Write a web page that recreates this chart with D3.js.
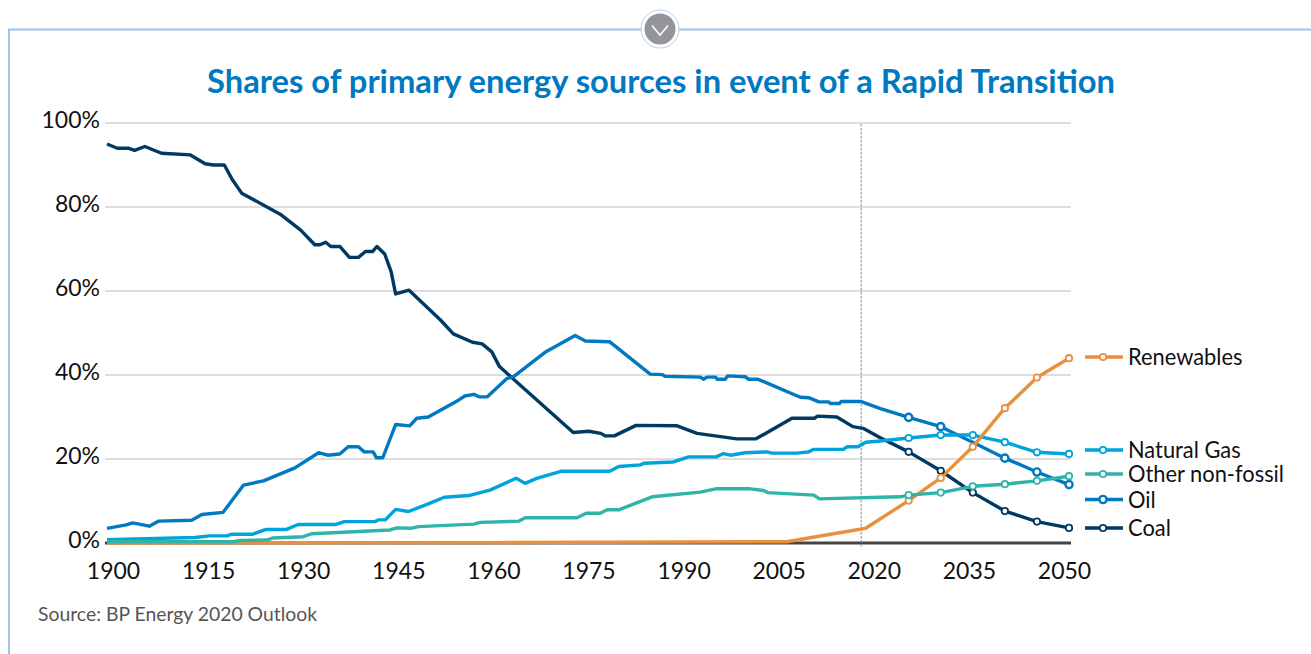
<!DOCTYPE html>
<html>
<head>
<meta charset="utf-8">
<script src="https://d3js.org/d3.v7.min.js"></script>
<style>
  html, body { margin: 0; padding: 0; background: #fff; overflow: hidden; }
  svg { display: block; font-family: Lato, "Open Sans", sans-serif; }
  .tick text { fill: #111; font-size: 23px; }
  .legend-label { fill: #111; font-size: 23px; }
</style>
</head>
<body>
<div id="viz"></div>
<script>
// values, [year list] + [share in %]
const coalYears = [1900,1901.6,1903.3,1904.3,1905.9,1908.5,1913,1915.3,1916.6,1918.3,1919.5,1921,1927,1930.2,1932.4,1933.2,1934.1,1934.9,1936.3,1937.8,1939.2,1940.3,1941.4,1942.1,1943.3,1944.3,1945,1947.1,1952,1954,1957,1958.5,1960,1961.2,1972.7,1975.1,1977,1977.7,1979.1,1982.5,1988.9,1992,1998.2,2001.2,2006.8,2010.3,2010.8,2013.8,2016.3,2017.9,2020.5,2025,2030,2035,2040,2045,2050];
const coalValues = [95,94,94,93.5,94.4,92.8,92.4,90.3,90,90,86.6,83.3,78.3,74.5,71,71,71.6,70.6,70.6,68,68,69.4,69.4,70.6,68.8,64.6,59.3,60.2,53.1,49.8,47.8,47.4,45.5,42,26.3,26.6,26.1,25.5,25.5,28,27.9,26.1,24.8,24.8,29.7,29.7,30.2,30,27.7,27.3,25.1,21.7,17.2,12,7.6,5.1,3.6];

const oilYears = [1900,1903,1904,1906.6,1908,1913.2,1914.8,1918.1,1921.3,1924.4,1929.3,1933,1934.4,1936.3,1937.6,1939.2,1940.1,1941.5,1942,1943,1945,1947.2,1948.3,1950.1,1954.8,1955.8,1957.2,1958,1959.3,1962.4,1963.4,1968.3,1973,1974.6,1978.4,1984.7,1986.6,1987,1992.5,1993,1993.6,1994.9,1995.1,1996.4,1996.8,1999.5,2000,2001.5,2008.1,2009.4,2011,2012.5,2012.8,2014.2,2014.5,2017.5,2020.6,2025,2030,2035,2040,2045,2050];
const oilValues = [3.5,4.3,4.8,4,5.2,5.4,6.8,7.3,13.8,14.8,17.9,21.5,20.9,21.2,22.9,22.9,21.7,21.7,20.3,20.3,28.2,27.9,29.7,30,34,35,35.4,34.8,34.8,39.2,39.6,45.4,49.4,48.1,47.9,40.2,40.1,39.7,39.5,39,39.5,39.5,39,39,39.8,39.6,39,39,34.7,34.6,33.6,33.6,33.2,33.2,33.7,33.7,32,29.9,27.7,24,20.2,16.9,13.9];

const gasYears = [1900,1913.7,1916,1918.7,1919.5,1922.7,1924.7,1927.9,1929.8,1935.6,1937,1941.8,1942.3,1943.4,1945,1947,1950.1,1952.6,1956.4,1959.7,1963.8,1965.2,1967,1970.9,1978.4,1979.8,1983.2,1983.7,1988.3,1990.7,1995,1996.1,1997.2,1999.5,2002.9,2003.7,2007.6,2009.4,2010.2,2014.8,2015.4,2017.1,2018.3,2020.6,2025,2030,2033,2035,2040,2045,2050];
const gasValues = [0.8,1.3,1.7,1.7,2.1,2.1,3.2,3.2,4.4,4.4,5.1,5.1,5.5,5.5,8,7.5,9.3,10.9,11.3,12.6,15.4,14.2,15.4,17.1,17.1,18.2,18.6,19,19.3,20.5,20.5,21.3,20.9,21.5,21.7,21.4,21.4,21.7,22.3,22.3,22.9,22.9,24,24.3,25,25.7,25.7,25.7,24,21.6,21.2];

const otherYears = [1900,1919.7,1920.8,1924.9,1925.9,1930.6,1931.9,1944.1,1945.2,1947.3,1948.6,1957.2,1958.2,1964.2,1965.2,1973.3,1974.7,1976.9,1978,1979.8,1985,1992.5,1994.9,2000.3,2002.4,2003,2010.2,2011.1,2020.6,2023.7,2025,2030,2035,2040,2045,2050];
const otherValues = [0.3,0.3,0.6,0.7,1.2,1.5,2.2,3.1,3.6,3.5,3.9,4.5,4.9,5.2,6,6,7.1,7.1,7.9,7.9,11,12.1,12.9,12.9,12.5,12,11.4,10.5,10.9,11,11.4,12,13.5,14,14.8,15.9];

const renewYears = [1900,1960,2006,2018.3,2025,2030,2035,2040,2045,2050];
const renewValues = [0,0.1,0.3,3.5,10.1,15.5,22.9,32.1,39.4,44];

const yTickValues = [0, 20, 40, 60, 80, 100];
const xTickLabels = ["1900","1915","1930","1945","1960","1975","1990","2005","2020","2035","2050"];
const projectionYears = [2025, 2030, 2035, 2040, 2045, 2050];
const oilMarkerYears = [2025, 2030, 2040, 2045, 2050];
const historyEnd = 2017.6;

const seriesNames = ["Coal", "Oil", "Natural Gas", "Renewables", "Other non-fossil"];
const seriesColors = ["#003a63", "#0079c1", "#00a3dc", "#e98f40", "#2fb5a8"];
const seriesYears = [coalYears, oilYears, gasYears, renewYears, otherYears];
const seriesValues = [coalValues, oilValues, gasValues, renewValues, otherValues];
const seriesMarkers = [projectionYears, oilMarkerYears, projectionYears, projectionYears, projectionYears];

const legendOrder = ["Renewables", "Natural Gas", "Other non-fossil", "Oil", "Coal"];
const legendY = [357, 450, 474, 499.5, 528];

const width = 1311, height = 654;

const svg = d3.select("#viz").append("svg")
  .attr("width", width)
  .attr("height", height);

// scales
const x = d3.scaleLinear().domain([1900, 2050]).range([107, 1069]);
const y = d3.scaleLinear().domain([0, 100]).range([543, 123]);
// the year labels do not sit exactly on the data positions in the original
const xLabels = d3.scalePoint().domain(xTickLabels).range([113, 1064]);

// panel frame
svg.append("path")
  .attr("d", "M9,654V29.5H1311")
  .attr("fill", "none")
  .attr("stroke", "#9cc3ea")
  .attr("stroke-width", 2);

// collapse button
svg.append("circle").attr("cx", 660).attr("cy", 29).attr("r", 19)
  .attr("fill", "#fff").attr("stroke", "#b5d0ee").attr("stroke-width", 1);
svg.append("circle").attr("cx", 660).attr("cy", 29).attr("r", 15.5).attr("fill", "#939598");
svg.append("path").attr("d", "M652,25.5L660,35L668,25.5")
  .attr("fill", "none").attr("stroke", "#fff").attr("stroke-width", 1.5);

// title, stretched to the width of the original heading
svg.append("text")
  .attr("x", 661)
  .attr("y", 93)
  .attr("text-anchor", "middle")
  .attr("fill", "#0079c1")
  .attr("textLength", 908)
  .attr("lengthAdjust", "spacingAndGlyphs")
  .style("font-size", "32px")
  .style("font-weight", 700)
  .text("Shares of primary energy sources in event of a Rapid Transition");

// y axis + gridlines
const yAxis = svg.append("g")
  .attr("transform", "translate(105,-2.5)")
  .call(d3.axisLeft(y).tickValues(yTickValues).tickFormat(d => d + "%").tickSize(0).tickPadding(5));
yAxis.attr("font-family", null);
yAxis.select(".domain").remove();

svg.append("g").selectAll("line")
  .data(yTickValues.filter(d => d > 0))
  .enter().append("line")
    .attr("x1", 105)
    .attr("x2", 1071)
    .attr("y1", d => y(d))
    .attr("y2", d => y(d))
    .attr("stroke", "#bcbcbc")
    .attr("stroke-width", 1);

// x axis labels
const xAxis = svg.append("g")
  .attr("transform", "translate(0,543)")
  .call(d3.axisBottom(xLabels).tickSize(0).tickPadding(20));
xAxis.attr("font-family", null);
xAxis.select(".domain").remove();

// baseline
svg.append("line")
  .attr("x1", 105).attr("x2", 1071)
  .attr("y1", y(0)).attr("y2", y(0))
  .attr("stroke", "#444")
  .attr("stroke-width", 3);

// history / projection divider
svg.append("line")
  .attr("x1", x(historyEnd)).attr("x2", x(historyEnd))
  .attr("y1", 124).attr("y2", 548)
  .attr("stroke", "#999")
  .attr("stroke-width", 1.2)
  .attr("stroke-dasharray", "2.5,1.5");

// lines
const line = d3.line()
  .x(d => x(d[0]))
  .y(d => y(d[1]));

seriesNames.forEach(function(name, i) {
  const pts = d3.zip(seriesYears[i], seriesValues[i]);
  svg.append("path")
    .datum(pts)
    .attr("fill", "none")
    .attr("stroke", seriesColors[i])
    .attr("stroke-width", 3.4)
    .attr("stroke-linejoin", "round")
    .attr("d", line);
});

// projection markers, on top of all the lines
seriesNames.forEach(function(name, i) {
  const pts = d3.zip(seriesYears[i], seriesValues[i])
    .filter(d => seriesMarkers[i].includes(d[0]));
  svg.append("g").selectAll("circle")
    .data(pts)
    .enter().append("circle")
      .attr("cx", d => x(d[0]))
      .attr("cy", d => y(d[1]))
      .attr("r", name == "Oil" ? 3.6 : 3.2)
      .attr("fill", "#fff")
      .attr("stroke", seriesColors[i])
      .attr("stroke-width", name == "Oil" ? 2.4 : 1.8);
});

// legend
legendOrder.forEach(function(name, i) {
  const color = seriesColors[seriesNames.indexOf(name)];
  const g = svg.append("g").attr("transform", `translate(0,${legendY[i]})`);
  g.append("line")
    .attr("x1", 1085).attr("x2", 1123)
    .attr("stroke", color)
    .attr("stroke-width", 3.4);
  g.append("circle")
    .attr("cx", 1103)
    .attr("r", name == "Oil" ? 3.6 : 3.2)
    .attr("fill", "#fff")
    .attr("stroke", color)
    .attr("stroke-width", name == "Oil" ? 2.4 : 1.8);
  const label = g.append("text")
    .attr("class", "legend-label")
    .attr("x", 1128)
    .attr("y", 8)
    .text(name);
  // squeeze a little, the original face is narrower than Lato
  label.attr("textLength", label.node().getComputedTextLength() * 0.95)
    .attr("lengthAdjust", "spacingAndGlyphs");
});

// source
svg.append("text")
  .attr("x", 38)
  .attr("y", 621)
  .attr("fill", "#555")
  .attr("textLength", 279)
  .attr("lengthAdjust", "spacingAndGlyphs")
  .style("font-size", "20px")
  .text("Source: BP Energy 2020 Outlook");
</script>
</body>
</html>
